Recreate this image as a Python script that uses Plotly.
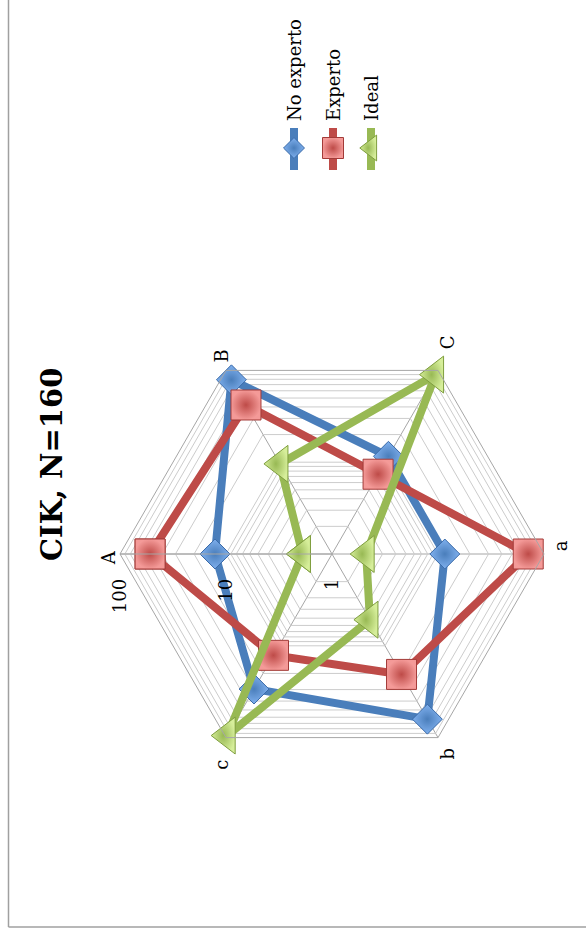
import plotly.graph_objects as go

categories = ["A", "B", "C", "a", "b", "c"]
no_experto = [12.7, 79, 11.6, 11.6, 63, 29.6]
experto = [52, 42, 7.4, 71, 20.5, 12.7]
ideal = [1.9, 9.6, 90, 2.1, 5.2, 95]
series_names = ["No experto", "Experto", "Ideal"]
radial_ticks = [1, 2, 3, 4, 5, 6, 7, 8, 9, 10, 20, 30, 40, 50, 60, 70, 80, 90, 100]
radial_labels = ["1", "", "", "", "", "", "", "", "", "10", "", "", "", "", "", "", "", "", "100"]
title_text = "CIK, N=160"

W, H = 586, 934
SERIF = "DejaVu Serif"

styles = [
    dict(line="#4A7EBB", fill="#7FB0EE", edge="#3A6AA8", symbol="diamond", size=23),
    dict(line="#BE4B48", fill="#F49A98", edge="#A23B38", symbol="square", size=30),
    dict(line="#98B954", fill="#D6EE9A", edge="#7E9D3E", symbol="triangle-left", size=32),
]

fig = go.Figure()
for name, vals, st in zip(series_names, [no_experto, experto, ideal], styles):
    fig.add_trace(go.Scatterpolar(
        r=vals + vals[:1], theta=categories + categories[:1],
        mode="lines+markers", name=name, showlegend=False,
        line=dict(color=st["line"], width=8),
        marker=dict(symbol=st["symbol"], size=st["size"], color=st["fill"],
                    gradient=dict(type="radial", color=st["line"]),
                    line=dict(color=st["edge"], width=1)),
    ))

# legend keys (custom, rotated)
leg_x = [294, 333, 371]
for name, st, lx in zip(series_names, styles, leg_x):
    fig.add_trace(go.Scatter(
        x=[lx, lx, lx], y=[128, 148, 170], mode="lines", xaxis="x", yaxis="y",
        line=dict(color=st["line"], width=8), showlegend=False, hoverinfo="skip"))
    fig.add_trace(go.Scatter(
        x=[lx], y=[148], mode="markers", xaxis="x", yaxis="y",
        marker=dict(symbol=st["symbol"], size=st["size"] * 0.7, color=st["fill"],
                    gradient=dict(type="radial", color=st["line"]),
                    line=dict(color=st["edge"], width=1)),
        showlegend=False, hoverinfo="skip"))
    fig.add_annotation(x=lx / W, y=1 - 123 / H, xref="paper", yref="paper",
                       text=name, textangle=-90, showarrow=False,
                       xanchor="center", yanchor="bottom",
                       font=dict(family=SERIF, size=18, color="#000000"))

cx, cy, R = 332, 554, 212
fig.update_layout(
    width=W, height=H, margin=dict(l=0, r=0, t=0, b=0),
    paper_bgcolor="white", plot_bgcolor="rgba(0,0,0,0)",
    showlegend=False,
    xaxis=dict(domain=[0, 1], range=[0, W], visible=False, fixedrange=True),
    yaxis=dict(domain=[0, 1], range=[H, 0], visible=False, fixedrange=True),
    polar=dict(
        domain=dict(x=[(cx - R) / W, (cx + R) / W], y=[1 - (cy + R) / H, 1 - (cy - R) / H]),
        bgcolor="white",
        gridshape="linear",
        angularaxis=dict(
            direction="clockwise", rotation=180,
            categoryorder="array", categoryarray=categories,
            showline=True, linecolor="#A6A6A6", linewidth=1,
            gridcolor="#A6A6A6", gridwidth=1,
            ticks="outside", ticklen=10, tickcolor="rgba(0,0,0,0)",
            tickangle=-90,
            tickfont=dict(family=SERIF, size=18, color="#000000"),
        ),
        radialaxis=dict(
            type="log", range=[0, 2], angle=180, tickangle=90, side="counterclockwise",
            tickvals=radial_ticks, ticktext=radial_labels,
            showline=True, linecolor="#A6A6A6", linewidth=1,
            gridcolor="#CCCCCC", gridwidth=1,
            ticks="outside", ticklen=18, tickcolor="rgba(0,0,0,0)",
            tickfont=dict(family=SERIF, size=18, color="#000000"),
        ),
    ),
    shapes=[
        dict(type="line", xref="paper", yref="paper", x0=8.5 / W, x1=8.5 / W, y0=1, y1=1 - 927 / H,
             line=dict(color="#A0A0A0", width=1.5)),
        dict(type="line", xref="paper", yref="paper", x0=8.5 / W, x1=1, y0=1 - 927 / H, y1=1 - 927 / H,
             line=dict(color="#A0A0A0", width=1.5)),
    ],
)
fig.add_annotation(x=52 / W, y=1 - 465 / H, xref="paper", yref="paper",
                   text="<b>" + title_text + "</b>", textangle=-90, showarrow=False,
                   xanchor="center", yanchor="middle",
                   font=dict(family=SERIF, size=29, color="#000000"))

fig.write_html("out.html")
